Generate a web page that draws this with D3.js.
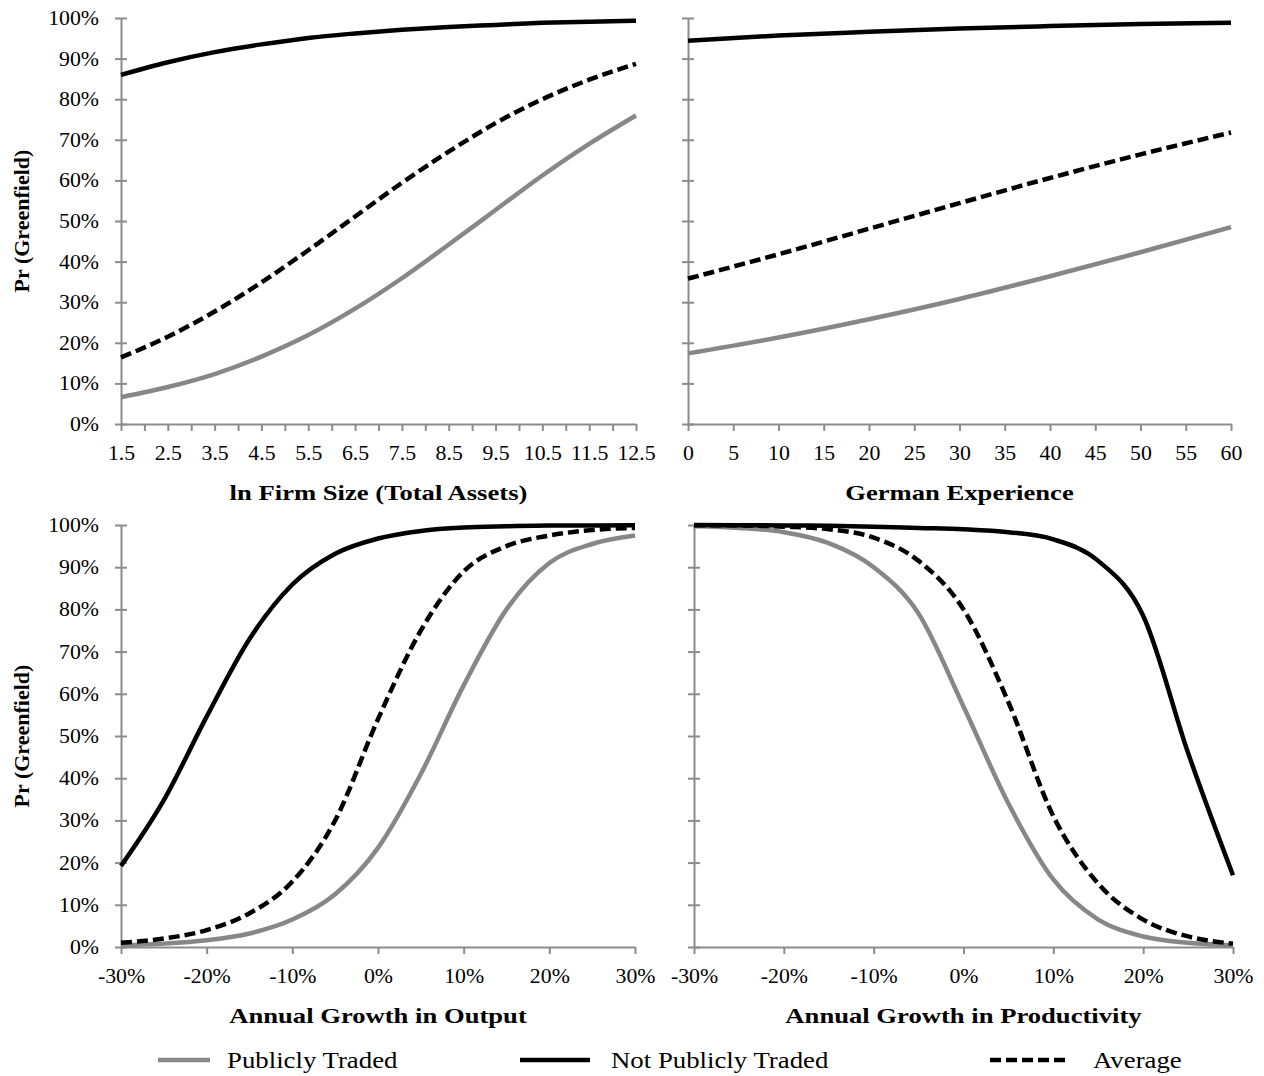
<!DOCTYPE html>
<html>
 <head>
  <meta charset="UTF-8">
  <title>Pr (Greenfield)</title>
  <style>
    body { margin: 0; background: #fff; }
    text { font-family: "Liberation Serif", "Times New Roman", serif; fill: #000; }
  </style>
 </head>
 <body>
<div id="viz-wrapper"></div>
 <script src="https://cdnjs.cloudflare.com/ajax/libs/d3/7.8.5/d3.min.js"></script>
 <script type="text/javascript">
    // tick labels
    var pctTicks = [0, 0.1, 0.2, 0.3, 0.4, 0.5, 0.6, 0.7, 0.8, 0.9, 1];
    var sizeTicks = [1.5, 2, 2.5, 3, 3.5, 4, 4.5, 5, 5.5, 6, 6.5, 7, 7.5, 8, 8.5, 9, 9.5, 10, 10.5, 11, 11.5, 12, 12.5];
    var expTicks = [0, 5, 10, 15, 20, 25, 30, 35, 40, 45, 50, 55, 60];
    var growthTicks = [-30, -20, -10, 0, 10, 20, 30];

    // firm size panel
    var sizeX       = [1.5, 2.5, 3.5, 4.5, 5.5, 6.5, 7.5, 8.5, 9.5, 10.5, 11.5, 12.5];
    var sizePublic  = [0.066, 0.091, 0.123, 0.166, 0.219, 0.284, 0.359, 0.442, 0.527, 0.612, 0.690, 0.760];
    var sizePrivate = [0.860, 0.891, 0.916, 0.935, 0.951, 0.962, 0.971, 0.978, 0.983, 0.988, 0.991, 0.993];
    var sizeAverage = [0.164, 0.215, 0.277, 0.349, 0.428, 0.511, 0.594, 0.671, 0.741, 0.800, 0.848, 0.887];

    // german experience panel
    var expX       = [0, 10, 20, 30, 40, 50, 60];
    var expPublic  = [0.174, 0.213, 0.258, 0.308, 0.364, 0.423, 0.485];
    var expPrivate = [0.944, 0.957, 0.966, 0.974, 0.980, 0.985, 0.988];
    var expAverage = [0.358, 0.418, 0.481, 0.544, 0.606, 0.664, 0.718];

    // growth panels (x in %)
    var growthX = [-30, -25, -20, -15, -10, -5, 0, 5, 10, 15, 20, 25, 30];
    var outputPublic  = [0.004, 0.008, 0.016, 0.032, 0.065, 0.125, 0.235, 0.410, 0.620, 0.800, 0.910, 0.955, 0.975];
    var outputPrivate = [0.192, 0.348, 0.546, 0.730, 0.859, 0.932, 0.968, 0.986, 0.994, 0.997, 0.999, 0.999, 0.9997];
    var outputAverage = [0.010, 0.020, 0.040, 0.080, 0.155, 0.300, 0.540, 0.750, 0.890, 0.950, 0.975, 0.988, 0.993];
    var prodPublic  = [0.997, 0.993, 0.983, 0.957, 0.900, 0.790, 0.570, 0.340, 0.160, 0.065, 0.025, 0.010, 0.004];
    var prodPrivate = [0.9998, 0.9996, 0.999, 0.998, 0.996, 0.993, 0.990, 0.983, 0.966, 0.915, 0.785, 0.460, 0.170];
    var prodAverage = [0.9995, 0.999, 0.996, 0.990, 0.970, 0.915, 0.800, 0.580, 0.310, 0.150, 0.065, 0.025, 0.008];

    var seriesNames = ["Publicly Traded", "Not Publicly Traded", "Average"];

    var width = 1264, height = 1076;
    var axisGray = "#8c8c8c";
    var lineStyles = [
      {stroke: "#878787", dash: null},
      {stroke: "#000", dash: null},
      {stroke: "#000", dash: "11,5"}
    ];

    var panels = [
      {x0: 121, x1: 636, y0: 424, y1: 18, dom: [1.5, 12.5], ticks: sizeTicks,
       fmt: function(d) { return (d % 1 === 0.5) ? d.toFixed(1) : ""; },
       xs: sizeX, ys: [sizePublic, sizePrivate, sizeAverage],
       title: "ln Firm Size (Total Assets)", ylab: true},
      {x0: 688, x1: 1231, y0: 424, y1: 18, dom: [0, 60], ticks: expTicks,
       fmt: function(d) { return d; },
       xs: expX, ys: [expPublic, expPrivate, expAverage],
       title: "German Experience", ylab: false},
      {x0: 121, x1: 635, y0: 947, y1: 525, dom: [-30, 30], ticks: growthTicks,
       fmt: function(d) { return d + "%"; },
       xs: growthX, ys: [outputPublic, outputPrivate, outputAverage],
       title: "Annual Growth in Output", ylab: true},
      {x0: 694, x1: 1233, y0: 947, y1: 525, dom: [-30, 30], ticks: growthTicks,
       fmt: function(d) { return d + "%"; },
       xs: growthX, ys: [prodPublic, prodPrivate, prodAverage],
       title: "Annual Growth in Productivity", ylab: false}
    ];

    var viz = d3.select("#viz-wrapper")
                .append("svg")
                .attr("width", width)
                .attr("height", height);

    // the source figure is a bit wider than tall, stretch text to match
    function widen(sel, k) {
      sel.each(function() {
        var len = this.getComputedTextLength();
        if (len > 0) {
          d3.select(this).attr("textLength", len * k).attr("lengthAdjust", "spacingAndGlyphs");
        }
      });
    }

    panels.forEach(function(p) {
      var x = d3.scaleLinear().domain(p.dom).range([p.x0, p.x1]);
      var y = d3.scaleLinear().domain([0, 1]).range([p.y0, p.y1]);

      // y axis, ticks crossing the line
      var ya = viz.append("g")
        .attr("transform", "translate(" + p.x0 + ",0)")
        .call(d3.axisLeft(y).tickValues(pctTicks).tickSize(6).tickSizeOuter(0)
              .tickFormat(function(d) { return p.ylab ? Math.round(d * 100) + "%" : ""; }));
      ya.selectAll(".tick line").attr("x1", 6);
      ya.selectAll(".tick text").attr("x", -22).style("font-size", "20px");

      // x axis, ticks below
      var xa = viz.append("g")
        .attr("transform", "translate(0," + p.y0 + ")")
        .call(d3.axisBottom(x).tickValues(p.ticks).tickSize(7).tickSizeOuter(0).tickFormat(p.fmt));
      xa.selectAll(".tick text").attr("y", 22).style("font-size", "20px");

      [ya, xa].forEach(function(a) {
        a.selectAll("path, line").attr("stroke", axisGray).attr("stroke-width", 2);
        a.selectAll("text").attr("fill", "#000").style("font-family", '"Liberation Serif", serif');
        widen(a.selectAll("text"), 1.09);
      });

      // curves
      var line = d3.line()
        .x(function(d) { return x(d[0]); })
        .y(function(d) { return y(d[1]); })
        .curve(d3.curveMonotoneX);

      p.ys.forEach(function(vals, i) {
        var pts = p.xs.map(function(v, j) { return [v, vals[j]]; });
        viz.append("path")
          .datum(pts)
          .attr("d", line)
          .attr("fill", "none")
          .attr("stroke", lineStyles[i].stroke)
          .attr("stroke-width", 4.5)
          .attr("stroke-dasharray", lineStyles[i].dash);
      });

      // x title
      var xt = viz.append("text")
        .attr("x", (p.x0 + p.x1) / 2)
        .attr("y", p.y0 + 76)
        .attr("text-anchor", "middle")
        .style("font-size", "22px")
        .style("font-weight", "bold")
        .text(p.title);
      widen(xt, 1.21);

      // y title
      if (p.ylab) {
        viz.append("text")
          .attr("transform", "translate(29," + ((p.y0 + p.y1) / 2) + ") rotate(-90)")
          .attr("text-anchor", "middle")
          .style("font-size", "22px")
          .style("font-weight", "bold")
          .text("Pr (Greenfield)");
      }
    });

    // legend
    var legendX = [158, 520, 990];
    var legendLen = [52, 70, 75];
    var legend = viz.selectAll(".legend")
      .data(seriesNames)
      .enter()
      .append("g")
      .attr("class", "legend")
      .attr("transform", function(d, i) { return "translate(" + legendX[i] + ",1060)"; });

    legend.append("line")
      .attr("x1", 0)
      .attr("x2", function(d, i) { return legendLen[i]; })
      .attr("stroke", function(d, i) { return lineStyles[i].stroke; })
      .attr("stroke-width", 4.5)
      .attr("stroke-dasharray", function(d, i) { return lineStyles[i].dash; });

    var lt = legend.append("text")
      .attr("x", function(d, i) { return legendLen[i] + [17, 21, 28][i]; })
      .attr("dy", "0.35em")
      .style("font-size", "23.5px")
      .text(function(d) { return d; });
    widen(lt, 1.14);
 </script>
 </body>
</html>
